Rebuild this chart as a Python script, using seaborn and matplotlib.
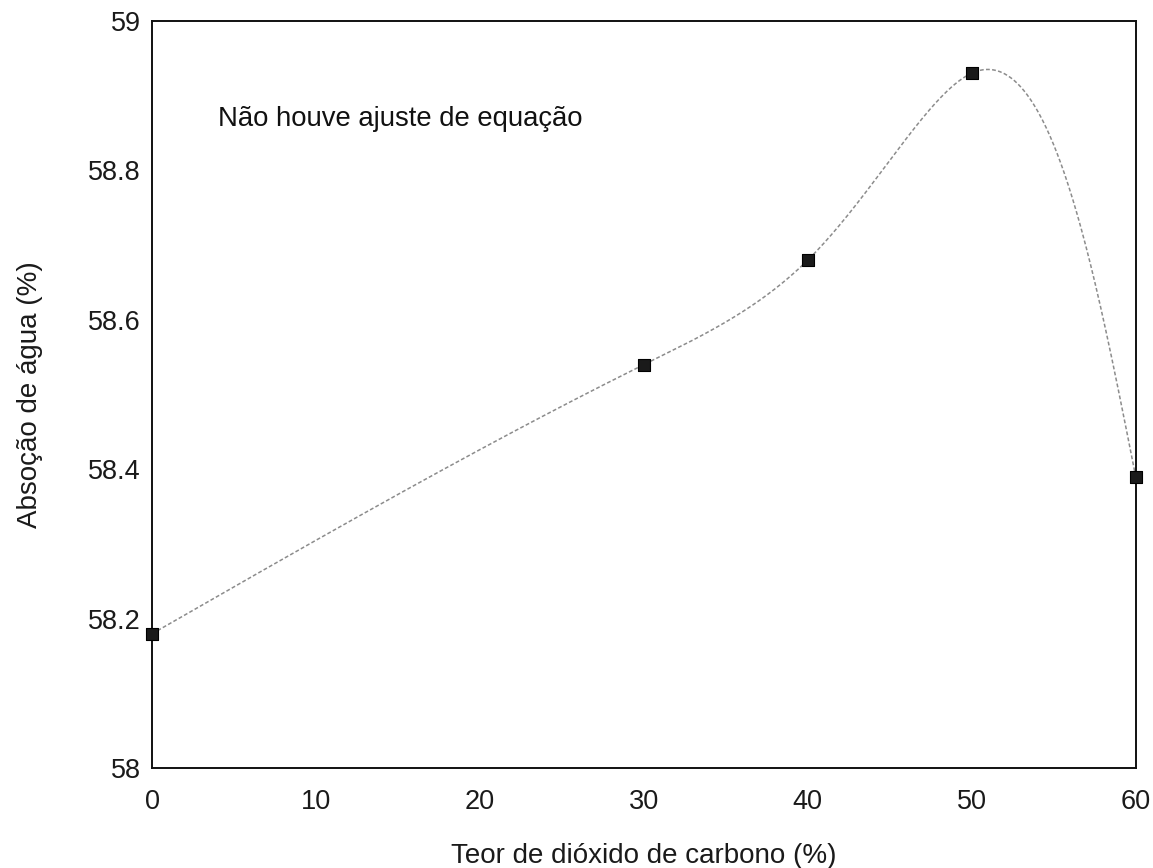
import numpy as np
import pandas as pd
import matplotlib
matplotlib.use("Agg")
import matplotlib.pyplot as plt
import seaborn as sns

# Data
co2_pct = [0, 30, 40, 50, 60]
absorcao = [58.18, 58.54, 58.68, 58.93, 58.39]

x_ticks = [0, 10, 20, 30, 40, 50, 60]
y_ticks = [58.0, 58.2, 58.4, 58.6, 58.8, 59.0]
y_tick_labels = ["58", "58.2", "58.4", "58.6", "58.8", "59"]

sns.set_style("white")
plt.rcParams["font.family"] = ["Liberation Sans", "DejaVu Sans"]

W, H = 1153, 868
ax_rect = [0.132, 0.115, 0.853, 0.861]
fig = plt.figure(figsize=(W / 100, H / 100), dpi=100)
ax = fig.add_axes(ax_rect)

x_lim = (0, 60)
y_lim = (58, 59)


def natural_spline_eval(t, v, tt):
    n = len(t)
    h = np.diff(t)
    A = np.zeros((n, n))
    b = np.zeros(n)
    A[0, 0] = 1.0
    A[-1, -1] = 1.0
    for i in range(1, n - 1):
        A[i, i - 1] = h[i - 1]
        A[i, i] = 2 * (h[i - 1] + h[i])
        A[i, i + 1] = h[i]
        b[i] = 6 * ((v[i + 1] - v[i]) / h[i] - (v[i] - v[i - 1]) / h[i - 1])
    M = np.linalg.solve(A, b)
    out = np.empty_like(tt)
    for k, x in enumerate(tt):
        i = min(max(np.searchsorted(t, x) - 1, 0), n - 2)
        hi = h[i]
        a = t[i + 1] - x
        c = x - t[i]
        out[k] = (M[i] * a ** 3 / (6 * hi) + M[i + 1] * c ** 3 / (6 * hi)
                  + (v[i] / hi - M[i] * hi / 6) * a + (v[i + 1] / hi - M[i + 1] * hi / 6) * c)
    return out


def smooth_curve(xs, ys, n=600):
    # parametric natural cubic spline (chord-length) in screen space
    sx = ax_rect[2] * W
    sy = ax_rect[3] * H
    px = (np.asarray(xs, float) - x_lim[0]) / (x_lim[1] - x_lim[0]) * sx
    py = (np.asarray(ys, float) - y_lim[0]) / (y_lim[1] - y_lim[0]) * sy
    d = np.hypot(np.diff(px), np.diff(py))
    t = np.concatenate([[0], np.cumsum(d)])
    tt = np.linspace(0, t[-1], n)
    qx = natural_spline_eval(t, px, tt)
    qy = natural_spline_eval(t, py, tt)
    cx = qx / sx * (x_lim[1] - x_lim[0]) + x_lim[0]
    cy = qy / sy * (y_lim[1] - y_lim[0]) + y_lim[0]
    return cx, cy


cx, cy = smooth_curve(co2_pct, absorcao)
curve = pd.DataFrame({"x": cx, "y": cy})
sns.lineplot(data=curve, x="x", y="y", sort=False, ax=ax, color="#8c8c8c",
             linewidth=1.1, linestyle=(0, (2.5, 1.5)), estimator=None, clip_on=False)

pts = pd.DataFrame({"x": co2_pct, "y": absorcao})
sns.scatterplot(data=pts, x="x", y="y", ax=ax, marker="s", s=70, color="#1a1a1a",
                edgecolor="#000000", linewidth=0.8, zorder=5, clip_on=False)

ax.set_xlim(*x_lim)
ax.set_ylim(*y_lim)
ax.set_xticks(x_ticks)
ax.set_xticklabels([str(v) for v in x_ticks])
ax.set_yticks(y_ticks)
ax.set_yticklabels(y_tick_labels)
ax.tick_params(axis="both", length=0, labelsize=19.5, colors="#1a1a1a")
ax.tick_params(axis="x", pad=15)
ax.tick_params(axis="y", pad=8)

for s in ax.spines.values():
    s.set_visible(True)
    s.set_color("#111111")
    s.set_linewidth(1.4)

ax.set_xlabel("Teor de dióxido de carbono (%)", fontsize=20, color="#1a1a1a", labelpad=20)
ax.set_ylabel("Absoção de água (%)", fontsize=20, color="#1a1a1a", labelpad=33)

ax.text(4.0, 58.868, "Não houve ajuste de equação", fontsize=19.8, color="#111111",
        ha="left", va="center")

fig.savefig("out.png", dpi=100)
